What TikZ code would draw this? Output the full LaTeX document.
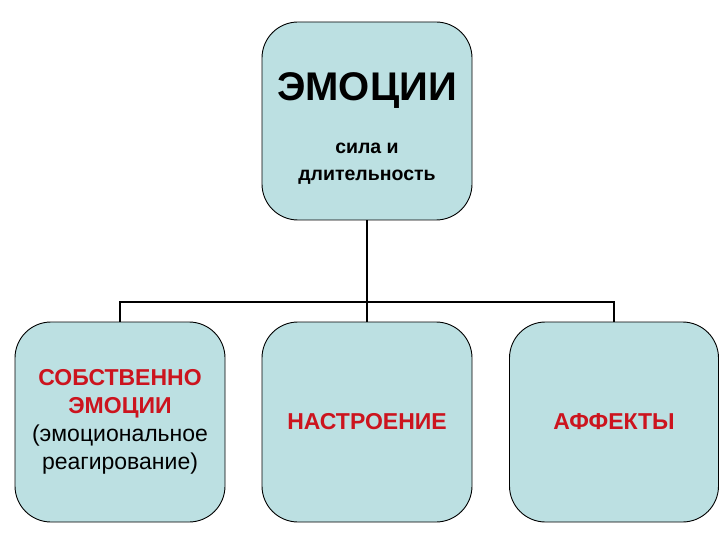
\documentclass[tikz,border=0pt]{standalone}
\usepackage{fontspec}
\setmainfont{Liberation Sans}
\usepackage{xcolor}
\usepackage{tikz}
\usetikzlibrary{positioning,calc}
\definecolor{boxfill}{RGB}{188,224,226}
\definecolor{redtext}{RGB}{204,20,30}

\begin{document}
\begin{tikzpicture}[x=1pt,y=-1pt,
    card/.style={draw=black, line width=0.9pt, fill=boxfill, rounded corners=36pt,
        minimum width=210pt, minimum height=200pt, align=center,
        font=\fontsize{23}{28}\selectfont},
    hot/.style={text=redtext, font=\fontsize{23}{28}\selectfont\bfseries},
    link/.style={line width=2.6pt, black}]
    \useasboundingbox (0,0) rectangle (720,540);

    \node[card, minimum height=198pt, font=\fontsize{19.5}{27}\selectfont\bfseries]
        (top) at (367,121) {%
        \rule{0pt}{42pt}{\fontsize{40}{44}\selectfont ЭМОЦИИ}\\[26pt]
        сила и\\
        длительность};

    \node[card] (left) at (120,422) {%
        \textcolor{redtext}{\bfseries СОБСТВЕННО}\\
        \textcolor{redtext}{\bfseries ЭМОЦИИ}\\
        (эмоциональное\\
        реагирование)};
    \node[card, hot] (mid) at (367,422) {НАСТРОЕНИЕ};
    \node[card, hot, minimum width=209pt] (right) at (614,422) {АФФЕКТЫ};

    \coordinate (bar) at (367,302);
    \draw[link] (top.south) -- (mid.north);
    \draw[link] (left.north) -- (left.north |- bar) -- (right.north |- bar) -- (right.north);
\end{tikzpicture}
\end{document}
